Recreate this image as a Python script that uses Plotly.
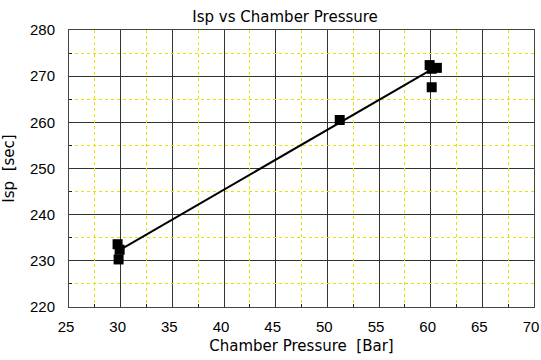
import plotly.graph_objects as go

# Measured specific impulse against chamber pressure
pressure_bar = [29.7, 29.9, 29.8, 51.2, 59.9, 60.1, 60.6, 60.1]
isp_sec = [233.6, 232.4, 230.3, 260.5, 272.4, 271.6, 271.8, 267.6]

# Straight-line trend through the measurements
trend_x = [30.1, 59.9]
trend_y = [232.6, 271.2]

x_range = [25, 70]
y_range = [220, 280]

TICK_FONT = dict(family="Liberation Sans, Arial", size=15, color="black")
TEXT_FONT = dict(family="DejaVu Sans", size=15, color="black")

fig = go.Figure()
fig.add_trace(go.Scatter(
    x=trend_x, y=trend_y, mode="lines",
    line=dict(color="black", width=2), showlegend=False,
))
# markers sit on the overlay axes that carry the dashed half-step grid
fig.add_trace(go.Scatter(
    x=pressure_bar, y=isp_sec, mode="markers", xaxis="x2", yaxis="y2",
    marker=dict(symbol="square", size=10, color="black"),
    showlegend=False,
))

axis_common = dict(
    showline=True, linecolor="#444", linewidth=1, mirror=True,
    showgrid=True, gridcolor="#333", gridwidth=1, zeroline=False,
    ticks="", tickfont=TICK_FONT, tickmode="linear", automargin=False,
)
minor_ticks = dict(showgrid=False, ticks="inside", ticklen=3,
                   tickcolor="#222", tickwidth=1)
half_grid = dict(
    showgrid=True, gridcolor="#e4e400", griddash="3px,3px", gridwidth=1,
    showticklabels=False, ticks="", zeroline=False, showline=False,
    tickmode="linear", automargin=False,
)

fig.update_layout(
    xaxis=dict(
        range=x_range, tick0=25, dtick=5, ticklabelstandoff=6,
        ticklabelshift=-3, ticklabeloverflow="allow",
        minor=dict(dtick=2.5, tick0=25, **minor_ticks),
        title=dict(text="Chamber Pressure  [Bar]", standoff=6, font=TEXT_FONT),
        **axis_common,
    ),
    yaxis=dict(
        range=y_range, tick0=220, dtick=10, ticklabelstandoff=10,
        minor=dict(dtick=5, tick0=220, **minor_ticks),
        title=dict(text="Isp  [sec]", standoff=11, font=TEXT_FONT),
        **axis_common,
    ),
    xaxis2=dict(range=x_range, tick0=27.5, dtick=5, overlaying="x",
                anchor="y2", **half_grid),
    yaxis2=dict(range=y_range, tick0=225, dtick=10, overlaying="y",
                anchor="x2", **half_grid),
    width=541, height=360,
    margin=dict(l=69, r=7, t=30, b=53, autoexpand=False),
    paper_bgcolor="white", plot_bgcolor="white",
    title=dict(text="Isp vs Chamber Pressure", x=0.527, xanchor="center",
               y=0.954, yanchor="middle", font=TEXT_FONT),
)

fig.write_html("out.html")
